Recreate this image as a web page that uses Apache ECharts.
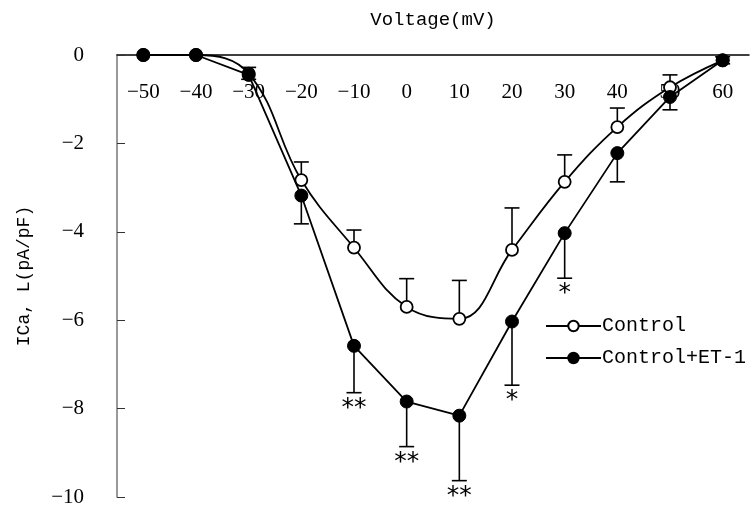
<!DOCTYPE html>
<html>
<head>
<meta charset="utf-8">
<script src="https://cdn.jsdelivr.net/npm/echarts@6/dist/echarts.min.js"></script>
<style>
  html, body { margin: 0; padding: 0; background: #fff; }
  #main { width: 750px; height: 517px; }
</style>
</head>
<body>
<div id="main"></div>
<script>
// voltage steps (mV)
var voltages = [-50, -40, -30, -20, -10, 0, 10, 20, 30, 40, 50, 60];
// mean current density, pA/pF
var control = [0, 0, -0.42, -2.83, -4.36, -5.70, -5.97, -4.41, -2.87, -1.63, -0.73, -0.12];
var controlErr = [0, 0, 0.14, 0.41, 0.40, 0.64, 0.87, 0.95, 0.61, 0.43, 0.28, 0.08];
var et1 = [0, 0, -0.45, -3.18, -6.58, -7.84, -8.16, -6.03, -4.03, -2.22, -0.95, -0.12];
var et1Err = [0, 0, 0.1, 0.64, 1.06, 1.02, 1.47, 1.44, 1.02, 0.65, 0.29, 0.08];
var stars = ['', '', '', '', '**', '**', '**', '*', '*', '', '', ''];

var FONT = 'Liberation Mono';
var NUMFONT = 'Liberation Serif';
var minus = function (v) { return String(v).replace('-', '\u2212'); };

var chart = echarts.init(document.getElementById('main'));

// error bar: dir = +1 draws upward, -1 draws downward
function errBar(dir) {
    return function (params, api) {
        var i = api.value(0);
        var mean = api.value(1);
        var err = api.value(2);
        if (!err) return;
        var p0 = api.coord([i, mean]);
        var p1 = api.coord([i, mean + dir * err]);
        var half = 7.5;
        var children = [
            {type: 'line', shape: {x1: p0[0], y1: p0[1], x2: p1[0], y2: p1[1]},
                style: {stroke: '#000', lineWidth: 1.6}},
            {type: 'line', shape: {x1: p1[0] - half, y1: p1[1], x2: p1[0] + half, y2: p1[1]},
                style: {stroke: '#000', lineWidth: 1.6}}
        ];
        var s = api.value(3);
        if (s) {
            children.push({type: 'text', x: p1[0], y: p1[1] + 3,
                style: {text: s, font: '25px "DejaVu Sans"', fill: '#000',
                    align: 'center', verticalAlign: 'top'}});
        }
        return {type: 'group', children: children};
    };
}

var option = {
    animation: false,
    backgroundColor: '#fff',
    grid: {left: 117, right: 1, top: 55, bottom: 20},
    legend: {
        orient: 'vertical',
        left: 540,
        top: 311,
        itemWidth: 55,
        itemHeight: 13,
        itemGap: 12,
        textStyle: {fontFamily: FONT, fontSize: 20, color: '#000', padding: [0, 0, 0, -4]},
        data: ['Control', 'Control+ET-1']
    },
    xAxis: {
        type: 'category',
        position: 'top',
        data: voltages,
        boundaryGap: true,
        name: 'Voltage(mV)',
        nameLocation: 'middle',
        nameGap: 26,
        nameTextStyle: {fontFamily: FONT, fontSize: 19, color: '#000'},
        axisLine: {lineStyle: {color: '#000', width: 1.5}},
        axisTick: {length: 7, lineStyle: {color: '#000'}},
        axisLabel: {inside: true, margin: 27, fontFamily: NUMFONT, fontSize: 21, color: '#000',
            formatter: minus}
    },
    yAxis: {
        type: 'value',
        min: -10,
        max: 0,
        interval: 2,
        name: 'ICa, L(pA/pF)',
        nameLocation: 'middle',
        nameGap: 84,
        nameTextStyle: {fontFamily: FONT, fontSize: 18, color: '#000'},
        splitLine: {show: false},
        axisLine: {show: true, lineStyle: {color: '#777', width: 1.5}},
        axisTick: {show: true, inside: true, length: 8, lineStyle: {color: '#333'}},
        axisLabel: {margin: 33, fontFamily: NUMFONT, fontSize: 21, color: '#000', formatter: minus}
    },
    series: [
        {
            type: 'custom',
            renderItem: errBar(1),
            z: 1,
            silent: true,
            data: voltages.map(function (v, i) { return [i, control[i], controlErr[i], '']; })
        },
        {
            type: 'custom',
            renderItem: errBar(-1),
            z: 1,
            silent: true,
            data: voltages.map(function (v, i) { return [i, et1[i], et1Err[i], stars[i]]; })
        },
        {
            name: 'Control',
            type: 'line',
            z: 3,
            data: control,
            smooth: 0.4,
            symbol: 'circle',
            symbolSize: 12,
            itemStyle: {color: '#fff', borderColor: '#000', borderWidth: 1.8},
            lineStyle: {color: '#000', width: 1.8}
        },
        {
            name: 'Control+ET-1',
            type: 'line',
            z: 4,
            data: et1,
            symbol: 'circle',
            symbolSize: 13,
            itemStyle: {color: '#000', borderColor: '#000', borderWidth: 1},
            lineStyle: {color: '#000', width: 1.8}
        }
    ]
};

chart.setOption(option);
</script>
</body>
</html>
